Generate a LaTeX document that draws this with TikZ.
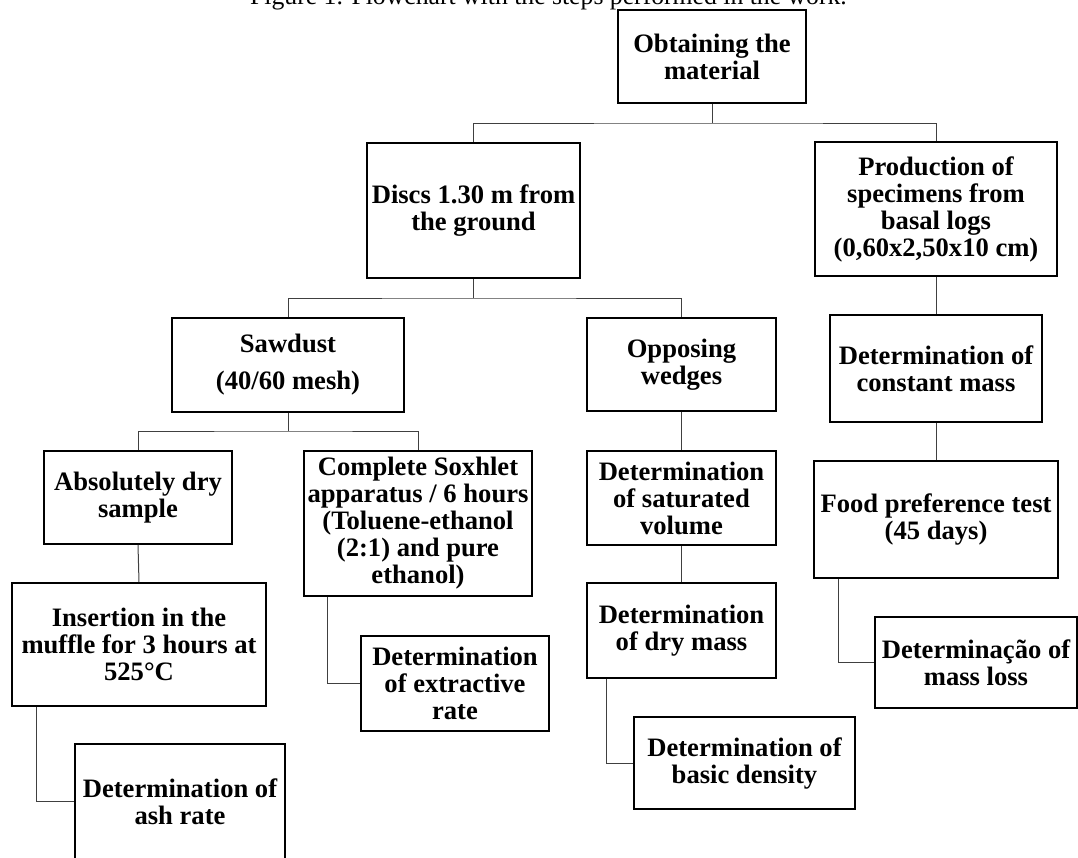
\documentclass[tikz,border=0pt]{standalone}
\usepackage{fontspec}
\setmainfont{Liberation Serif}
\usetikzlibrary{calc}
\tikzset{
  box/.style={draw=black, line width=1.8pt, rectangle, inner sep=0pt, align=center,
    font=\fontsize{26.6}{27}\selectfont\bfseries},
  link/.style={draw=black!75, line width=1pt},
}
\newcommand{\bx}[7]{% name, cx, cy, w, h, text
  \node[box, minimum width=#4pt, minimum height=#5pt] (#1) at (#2,#3) {#6};}
\begin{document}
\begin{tikzpicture}[x=1pt,y=-1pt]
\useasboundingbox (0,0) rectangle (1078,857);
\clip (0,0) rectangle (1078,857);
\node[anchor=base, inner sep=0pt, font=\fontsize{25.7}{27}\selectfont] (cap) at (548.5,4) {Figure 1. Flowchart with the steps performed in the work.};
\bx{obt}{712}{56.5}{188}{93}{Obtaining the\\material}{}
\bx{disc}{473.5}{210.5}{213}{135}{Discs 1.30 m from\\the ground}{}
\bx{prod}{936}{209}{242}{134}{Production of\\specimens from\\basal logs\\(0,60x2,50x10 cm)}{}
\bx{saw}{288}{365}{232}{94}{Sawdust\\[10pt](40/60 mesh)}{}
\bx{opp}{681.5}{364.5}{189}{93}{Opposing\\wedges}{}
\bx{cmass}{936}{368.5}{212}{107}{Determination of\\constant mass}{}
\bx{dry}{138}{497.5}{188}{93}{Absolutely dry\\sample}{}
\bx{sox}{418}{523.5}{228}{145}{Complete Soxhlet\\apparatus / 6 hours\\(Toluene-ethanol\\(2:1) and pure\\ethanol)}{}
\bx{sat}{681.5}{498}{189}{94}{Determination\\of saturated\\volume}{}
\bx{food}{936}{519.5}{244}{117}{Food preference test\\(45 days)}{}
\bx{ins}{139}{644.5}{254}{123}{Insertion in the\\muffle for 3 hours at\\525°C}{}
\bx{ext}{455}{683.5}{188}{95}{Determination\\of extractive\\rate}{}
\bx{drym}{681.5}{630.5}{189}{95}{Determination\\of dry mass}{}
\bx{loss}{976}{662.5}{202}{91}{Determinação of\\mass loss}{}
\bx{dens}{744.5}{763}{221}{92}{Determination of\\basic density}{}
\bx{ash}{180}{801.5}{210}{115}{Determination of\\ash rate}{}
% connectors
\coordinate (j1) at (712,123);
\draw[link] (obt.south) -- (j1);
\draw[link] (disc.north) |- (j1) -| (prod.north);
\coordinate (j2) at (473.5,298);
\draw[link] (disc.south) -- (j2);
\draw[link] (saw.north) |- (j2) -| (opp.north);
\coordinate (j3) at (288,431);
\draw[link] (saw.south) -- (j3);
\draw[link] (dry.north) |- (j3) -| (sox.north);
\draw[link] (dry.south) -- (ins.north);
\draw[link] ($(ins.south west)+(25,0)$) |- (ash.west);
\draw[link] ($(sox.south west)+(24,0)$) |- (ext.west);
\draw[link] (opp.south) -- (sat.north);
\draw[link] (sat.south) -- (drym.north);
\draw[link] ($(drym.south west)+(20,0)$) |- (dens.west);
\draw[link] (prod.south) -- (cmass.north);
\draw[link] (cmass.south) -- (food.north);
\draw[link] ($(food.south west)+(25,0)$) |- (loss.west);
\end{tikzpicture}
\end{document}
